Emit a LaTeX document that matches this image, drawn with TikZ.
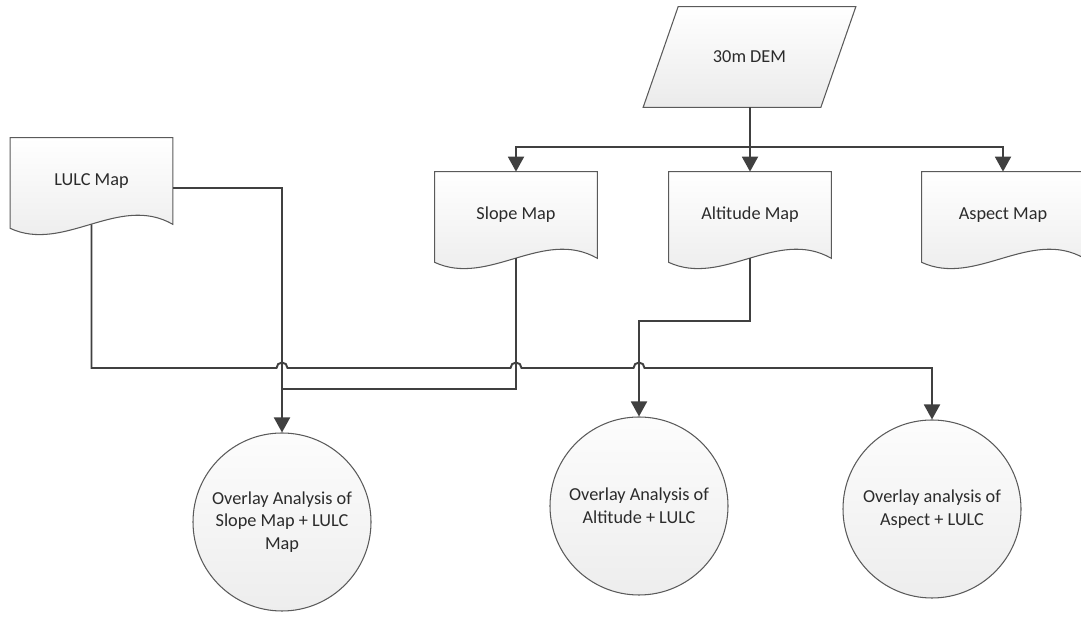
\documentclass[tikz,border=0pt]{standalone}
\usepackage{fontspec}
\setmainfont{Carlito}
\usetikzlibrary{arrows.meta,calc,backgrounds}

\definecolor{linegray}{HTML}{404040}
\definecolor{edgegray}{HTML}{5A5A5A}
\definecolor{txtgray}{HTML}{2B2B2B}

\tikzset{
  mapdoc/.style={minimum width=3.24cm, minimum height=1.72cm, inner sep=0pt, text=txtgray},
  docline/.style={draw=edgegray, line width=0.6pt, top color=white, bottom color=gray!16},
  demnode/.style={minimum width=3.54cm, minimum height=2cm, inner sep=0pt, text=txtgray},
  resultnode/.style={circle, minimum size=3.56cm, inner sep=0pt, align=center,
    draw=edgegray, line width=0.6pt, top color=gray!2, bottom color=gray!14, text=txtgray},
  conn/.style={draw=linegray, line width=1.1pt},
  connarrow/.style={conn, -{Triangle[length=3mm,width=3.2mm]}}
}

\begin{document}
\begin{tikzpicture}[font=\fontsize{10.4}{13}\selectfont]
    \useasboundingbox (0,0) rectangle (21.62,12.42);
    \node[demnode] (dem) at (14.99,11.28) {30m DEM};
    \node[mapdoc] (lulc) at (1.83,8.80) {LULC Map};
    \node[mapdoc] (slope) at (10.32,8.12) {Slope Map};
    \node[mapdoc] (altitude) at (15.0,8.12) {Altitude Map};
    \node[mapdoc] (aspect) at (20.06,8.12) {Aspect Map};
    \begin{scope}[on background layer]
        \draw[docline] ($(dem.north west)+(0.35,0)$) -- ($(dem.north east)+(0.35,0)$)
            -- ($(dem.south east)+(-0.35,0)$) -- ($(dem.south west)+(-0.35,0)$) -- cycle;
        \foreach \n in {lulc,slope,altitude,aspect}
            \draw[docline] (\n.north west) -- (\n.north east) -- (\n.south east)
                .. controls ($(\n.south east)+(-1.08,0.62)$) and ($(\n.south west)+(1.08,-0.58)$)
                .. ($(\n.south west)+(0,-0.08)$) -- cycle;
    \end{scope}
    \node[resultnode] (c1) at (5.64,1.98) {Overlay Analysis of\\Slope Map + LULC\\Map};
    \node[resultnode] (c2) at (12.78,2.30) {Overlay Analysis of\\Altitude + LULC};
    \node[resultnode] (c3) at (18.64,2.24) {Overlay analysis of\\Aspect + LULC};
    \coordinate (split) at (15.0,9.48);
    \coordinate (bus) at (0,5.06);
    \coordinate (slopebus) at (0,4.64);
    \coordinate (altbus) at (0,6.0);
    \draw[connarrow] (dem.south -| altitude.north) -- (altitude.north);
    \draw[connarrow] (split) -| (slope.north);
    \draw[connarrow] (split) -| (aspect.north);
    \draw[connarrow] ($(lulc.east)+(0,-0.14)$) -| (c1.north);
    \draw[conn] (slope.south) |- (c1.north |- slopebus);
    \draw[connarrow] (altitude.south) |- (c2.north |- altbus) -- (c2.north);
    \draw[connarrow] (lulc.south) -- (lulc.south |- bus)
        -- ($(c1.north |- bus)+(-0.11,0)$) arc[start angle=180, end angle=0, radius=0.11]
        -- ($(slope.south |- bus)+(-0.11,0)$) arc[start angle=180, end angle=0, radius=0.11]
        -- ($(c2.north |- bus)+(-0.11,0)$) arc[start angle=180, end angle=0, radius=0.11]
        -- (c3.north |- bus) -- (c3.north);
\end{tikzpicture}
\end{document}
